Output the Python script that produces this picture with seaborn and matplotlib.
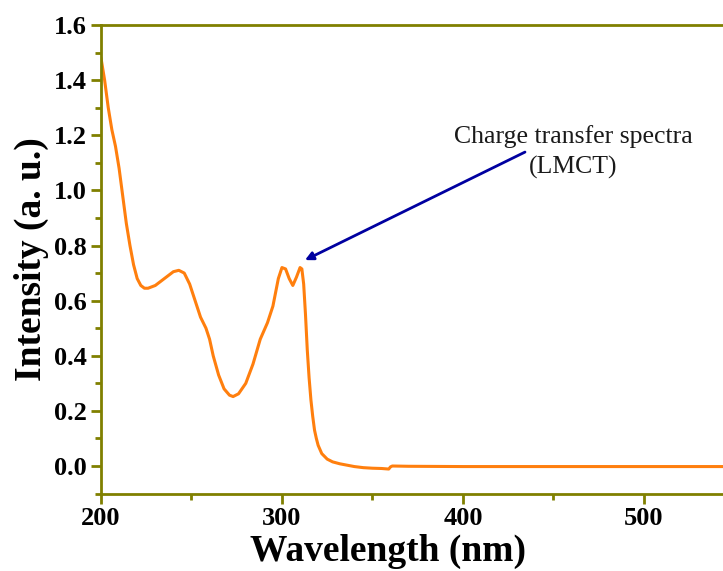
import numpy as np
import pandas as pd
import matplotlib
matplotlib.use("Agg")
import matplotlib.pyplot as plt
import seaborn as sns

# Spectrum
wavelength = [200, 202, 204, 206, 208, 210, 212, 214, 216, 218, 220, 222, 224, 226,
              230, 235, 240, 243, 246, 249, 252, 255, 258, 260, 262, 265, 268, 271,
              273, 276, 280, 284, 288, 292, 295, 298, 300, 302, 304, 306, 308, 310,
              311, 312, 313, 314, 315, 316, 317, 318, 319, 320, 322, 325, 328, 332,
              336, 340, 345, 350, 355, 359, 360, 361, 370, 400, 450, 500, 550]
intensity = [1.48, 1.40, 1.30, 1.22, 1.16, 1.08, 0.98, 0.88, 0.80, 0.73, 0.68, 0.655,
             0.645, 0.645, 0.655, 0.68, 0.705, 0.71, 0.70, 0.66, 0.60, 0.54, 0.50,
             0.46, 0.40, 0.33, 0.28, 0.257, 0.252, 0.262, 0.30, 0.37, 0.46, 0.52,
             0.58, 0.68, 0.72, 0.715, 0.68, 0.655, 0.685, 0.72, 0.715, 0.66, 0.55,
             0.42, 0.32, 0.24, 0.18, 0.13, 0.10, 0.075, 0.045, 0.025, 0.015, 0.008,
             0.003, -0.002, -0.006, -0.008, -0.009, -0.011, -0.003, 0.0, -0.001,
             -0.002, -0.002, -0.002, -0.002]

x_ticks = [200, 300, 400, 500]
y_ticks = [0.0, 0.2, 0.4, 0.6, 0.8, 1.0, 1.2, 1.4, 1.6]

df = pd.DataFrame({"Wavelength": wavelength, "Intensity": intensity})

sns.set_style("ticks")
plt.rcParams["font.family"] = ["Liberation Serif", "DejaVu Serif"]

olive = "#808000"

fig = plt.figure(figsize=(7.23, 5.71), dpi=100)
ax = fig.add_axes([0.1397, 0.1356, 0.876, 0.8206])
sns.lineplot(data=df, x="Wavelength", y="Intensity", color="#FF7F0E", linewidth=2.2, ax=ax)

ax.set_xlim(200, 550)
ax.set_ylim(-0.1, 1.6)
ax.set_xticks(x_ticks)
ax.set_yticks(y_ticks)
ax.set_xticks([250, 350, 450], minor=True)
ax.set_yticks(np.arange(-0.1, 1.6, 0.2), minor=True)
ax.set_yticklabels([f"{v:.1f}" for v in y_ticks])

for s in ax.spines.values():
    s.set_color(olive)
    s.set_linewidth(2)
ax.tick_params(which="both", direction="out", color=olive, width=2, labelcolor="black")
ax.tick_params(which="major", length=7, labelsize=19, pad=3)
ax.tick_params(which="minor", length=4)
for lab in ax.get_xticklabels() + ax.get_yticklabels():
    lab.set_fontweight("bold")

ax.set_xlabel("Wavelength (nm)", fontsize=27, fontweight="bold", color="black")
ax.set_ylabel("Intensity (a. u.)", fontsize=27, fontweight="bold", color="black")
ax.xaxis.set_label_coords(0.453, -0.085)
ax.yaxis.set_label_coords(-0.082, 0.5)

# LMCT annotation
ax.annotate("", xy=(312.7, 0.747), xytext=(434.3, 1.139),
            arrowprops=dict(arrowstyle="-|>", color="#0000A0", lw=2, mutation_scale=12,
                            shrinkA=0, shrinkB=0))
ax.text(460.8, 1.14, "Charge transfer spectra\n(LMCT)", ha="center", va="center",
        fontsize=18.5, color="#1a1a1a", linespacing=1.45)

fig.savefig("out.png", dpi=100)
